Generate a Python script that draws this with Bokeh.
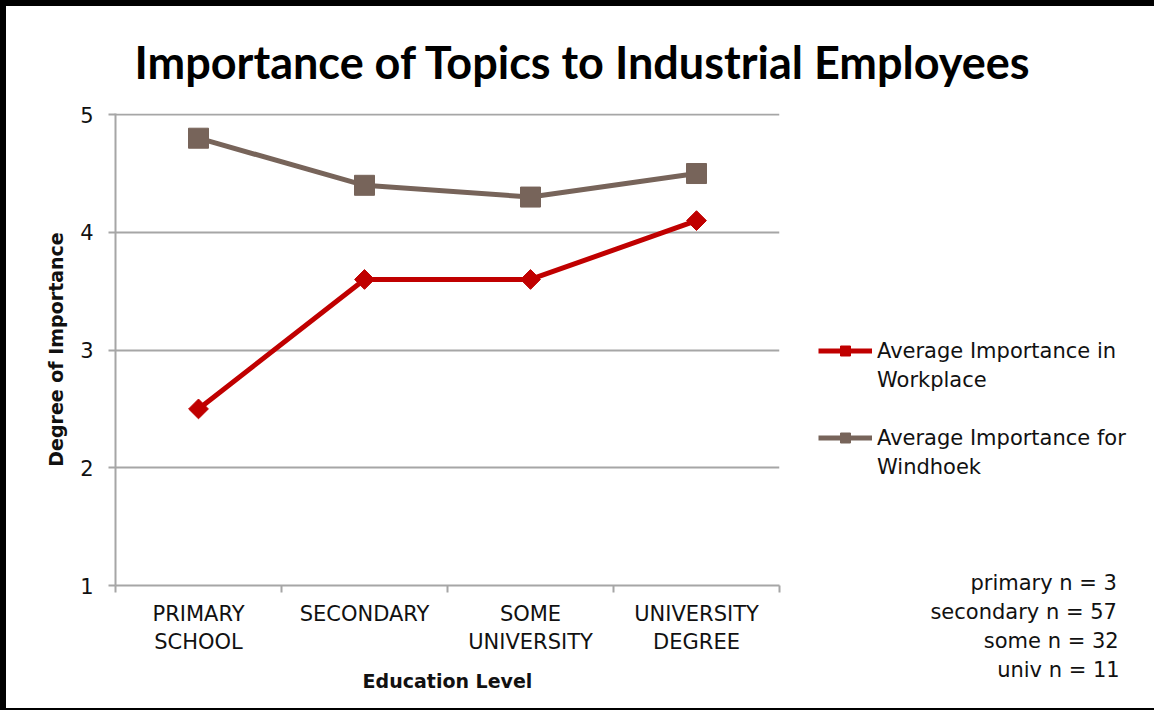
from bokeh.plotting import figure
from bokeh.models import Range1d, FixedTicker, Legend, LegendItem
from bokeh.embed import file_html
from bokeh.resources import INLINE

# ---- data ----
categories = ["PRIMARY\nSCHOOL", "SECONDARY", "SOME\nUNIVERSITY", "UNIVERSITY\nDEGREE"]
workplace = [2.5, 3.6, 3.6, 4.1]
windhoek = [4.8, 4.4, 4.3, 4.5]
series_lines = [["Average Importance in", "Workplace"], ["Average Importance for", "Windhoek"]]
sample_notes = ["primary n = 3", "secondary n = 57", "some n = 32", "univ n = 11"]
y_ticks = [1, 2, 3, 4, 5]
title_text = "Importance of Topics to Industrial Employees"

RED = "#C00000"
BROWN = "#77645A"
GRID = "#A6A6A6"
FONT = "DejaVu Sans"
NBSP = "\u00a0"

# approximate DejaVu Sans advance widths (em) used only to right-align the notes
_W = {'p': .635, 'r': .411, 'i': .278, 'm': .974, 'a': .613, 'y': .592, ' ': .318, 'n': .634,
      '=': .838, 's': .521, 'e': .615, 'c': .550, 'o': .612, 'd': .635, 'u': .634, 'v': .592}


def text_em(s):
    return sum(_W.get(ch, .636) for ch in s)


xs = [i + 0.5 for i in range(len(categories))]

p = figure(frame_width=664, frame_height=472, output_backend="svg", toolbar_location=None,
           x_range=Range1d(0, len(categories)), y_range=Range1d(1, 5.01),
           min_border_left=109, min_border_right=359, min_border_top=107, min_border_bottom=123)
p.styles = {"border-top": "6px solid black", "border-left": "6px solid black",
            "border-bottom": "2px solid black"}
p.outline_line_color = None
p.background_fill_color = "white"
p.border_fill_color = "white"

# title
p.title.text = title_text
p.title.align = "left"
p.title.offset = 19
p.title.text_font = "Lato"
p.title.text_font_style = "bold"
p.title.text_font_size = "45px"
p.title.text_color = "black"
p.title.standoff = 50

# axes
p.xaxis.ticker = FixedTicker(ticks=xs, minor_ticks=list(range(len(categories) + 1)))
p.xaxis.major_label_overrides = {x: c for x, c in zip(xs, categories)}
p.xaxis.major_tick_out = 0
p.xaxis.major_tick_in = 0
p.xaxis.minor_tick_out = 7
p.xaxis.minor_tick_in = 0
p.xaxis.minor_tick_line_color = GRID
p.xaxis.minor_tick_line_width = 2
p.xaxis.axis_line_color = GRID
p.xaxis.axis_line_width = 2
p.xaxis.major_label_text_font = FONT
p.xaxis.major_label_text_font_size = "21px"
p.xaxis.major_label_text_color = "#111111"
p.xaxis.major_label_standoff = 9
p.xaxis.axis_label = "Education Level"
p.xaxis.axis_label_text_font = FONT
p.xaxis.axis_label_text_font_style = "bold"
p.xaxis.axis_label_text_font_size = "19px"
p.xaxis.axis_label_text_color = "#111111"
p.xaxis.axis_label_standoff = 13

p.yaxis.ticker = FixedTicker(ticks=y_ticks)
p.yaxis.major_tick_out = 7
p.yaxis.major_tick_in = 0
p.yaxis.minor_tick_line_color = None
p.yaxis.major_tick_line_color = GRID
p.yaxis.major_tick_line_width = 2
p.yaxis.axis_line_color = GRID
p.yaxis.axis_line_width = 2
p.yaxis.major_label_text_font = FONT
p.yaxis.major_label_text_font_size = "21px"
p.yaxis.major_label_text_color = "#111111"
p.yaxis.major_label_standoff = 15
p.yaxis.axis_label = "Degree of Importance"
p.yaxis.axis_label_text_font = FONT
p.yaxis.axis_label_text_font_style = "bold"
p.yaxis.axis_label_text_font_size = "19px"
p.yaxis.axis_label_text_color = "#111111"
p.yaxis.axis_label_standoff = 10

p.xgrid.grid_line_color = None
p.ygrid.ticker = FixedTicker(ticks=y_ticks)
p.ygrid.grid_line_color = GRID
p.ygrid.grid_line_width = 2

# series
l1 = p.line(xs, workplace, line_color=RED, line_width=5)
m1 = p.scatter(xs, workplace, marker="square", angle=0.7853981634, size=14,
               fill_color=RED, line_color=RED)
l2 = p.line(xs, windhoek, line_color=BROWN, line_width=5)
m2 = p.scatter(xs, windhoek, marker="square", size=20, fill_color=BROWN, line_color=BROWN)
blank = p.line(x=[], y=[], line_alpha=0)  # no glyph in legend rows that only carry text

# legend column on the right: series entries followed by the sample-size notes
widest = max(text_em(n) for n in sample_notes)
items = [
    LegendItem(label=series_lines[0][0], renderers=[l1, m1]),
    LegendItem(label=series_lines[0][1], renderers=[blank]),
    LegendItem(label=NBSP, renderers=[blank]),
    LegendItem(label=series_lines[1][0], renderers=[l2, m2]),
    LegendItem(label=series_lines[1][1], renderers=[blank]),
    LegendItem(label=NBSP, renderers=[blank]),
    LegendItem(label=NBSP, renderers=[blank]),
    LegendItem(label=NBSP, renderers=[blank]),
]
for note in sample_notes:
    pad = 8 + int(round((widest - text_em(note)) / _W[' ']))
    items.append(LegendItem(label=NBSP * pad + note, renderers=[blank]))

legend = Legend(items=items, location=(39, -97))
legend.glyph_width = 54
legend.glyph_height = 25
legend.label_height = 25
legend.label_standoff = 5
legend.padding = 0
legend.margin = 0
legend.spacing = 4
legend.border_line_color = None
legend.background_fill_alpha = 0
legend.label_text_font = FONT
legend.label_text_font_size = "21px"
legend.label_text_color = "#111111"
p.add_layout(legend, "right")

open("out.html", "w").write(file_html(p, INLINE))
